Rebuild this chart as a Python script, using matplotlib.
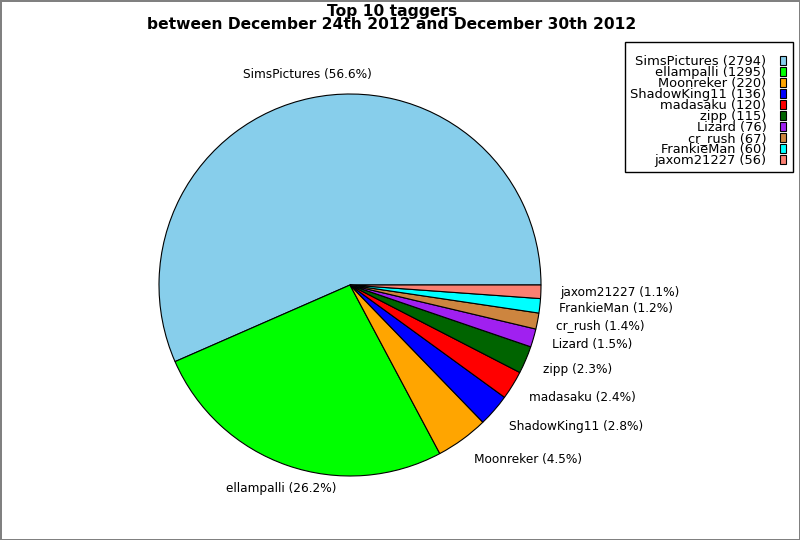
import matplotlib
matplotlib.use("Agg")
import matplotlib.pyplot as plt
from matplotlib.patches import Rectangle
from matplotlib.legend_handler import HandlerPatch

names = ["SimsPictures", "ellampalli", "Moonreker", "ShadowKing11", "madasaku",
         "zipp", "Lizard", "cr_rush", "FrankieMan", "jaxom21227"]
counts = [2794, 1295, 220, 136, 120, 115, 76, 67, 60, 56]
colors = ["#87CEEB", "#00FF00", "#FFA500", "#0000FF", "#FF0000",
          "#006400", "#A020F0", "#CD853F", "#00FFFF", "#FA8072"]
title = "Top 10 taggers\nbetween December 24th 2012 and December 30th 2012"

total = sum(counts)
pie_labels = [f"{n} ({c / total * 100:.1f}%)" for n, c in zip(names, counts)]
legend_labels = [f"{n} ({c})" for n, c in zip(names, counts)]

fig = plt.figure(figsize=(8, 5.4), dpi=100)
fig.patch.set_edgecolor("#808080")
fig.patch.set_linewidth(2)

W, H = 800, 540
cx, cy, r = 350, 540 - 285, 191
ax = fig.add_axes([(cx - r) / W, (cy - r) / H, 2 * r / W, 2 * r / H])
wedges, texts = ax.pie(counts, labels=pie_labels, colors=colors, startangle=0,
                       counterclock=True, labeldistance=1.1,
                       wedgeprops=dict(edgecolor="black", linewidth=0.8),
                       textprops=dict(fontsize=8.7))
ax.set_xlim(-1, 1)
ax.set_ylim(-1, 1)
ax.set_aspect("equal")
for t in texts[:2]:
    t.set_horizontalalignment("center")
for t in texts:
    x, y = t.get_position()
    t.set_position((x, y * 1.025))

fig.text(392 / W, 0.993, title, ha="center", va="top", fontsize=11.2,
         fontweight="bold", linespacing=0.84)


def small_box(legend, orig_handle, xdescent, ydescent, width, height, fontsize):
    bw, bh = 4.3, 6.5
    return Rectangle((-xdescent, -ydescent + (height - bh) / 2), bw, bh)


leg = fig.legend(wedges, legend_labels, loc="upper right",
                 bbox_to_anchor=(793 / W, 1 - 42 / H), markerfirst=False,
                 fontsize=9.4, labelspacing=-0.16, handlelength=0.61,
                 handleheight=0.7, handletextpad=1.0, borderpad=0.42,
                 borderaxespad=0, fancybox=False, framealpha=1,
                 title=" ", title_fontsize=8.0,
                 handler_map={w: HandlerPatch(patch_func=small_box) for w in wedges})
leg.get_frame().set_edgecolor("black")
leg.get_frame().set_linewidth(1)
for t in leg.get_texts():
    t.set_horizontalalignment("right")

fig.savefig("out.png", dpi=100)
